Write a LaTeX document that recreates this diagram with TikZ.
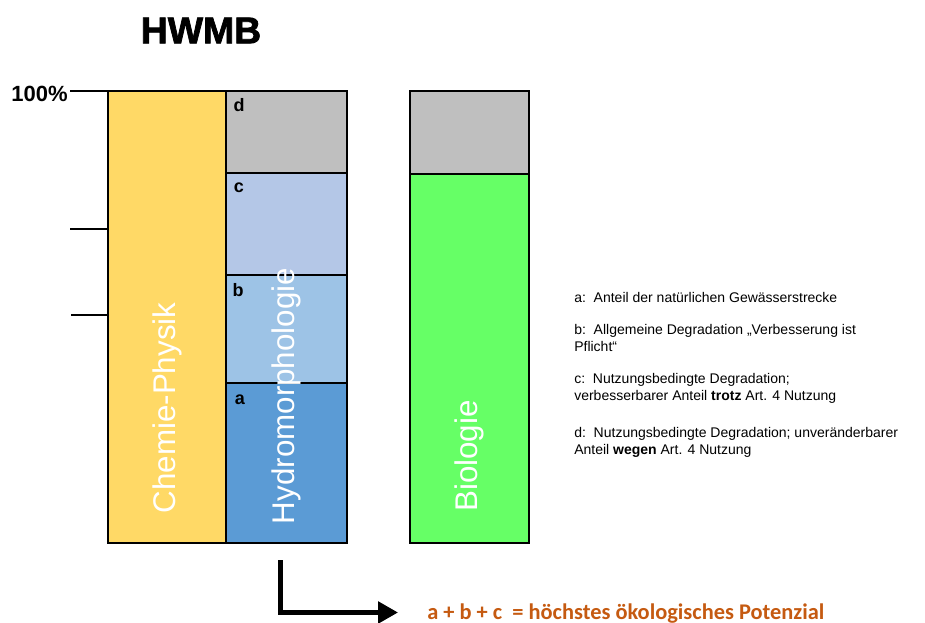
\documentclass[tikz,border=0pt]{standalone}
\usepackage{fontspec}
\setmainfont{Liberation Sans}
\newfontfamily\carl{Carlito}
\newfontfamily\heavy[BoldFeatures={FakeBold=2}]{Liberation Sans}
\usetikzlibrary{arrows.meta}
\definecolor{cgold}{HTML}{FFD966}
\definecolor{cgray}{HTML}{BFBFBF}
\definecolor{cc}{HTML}{B4C7E7}
\definecolor{cb}{HTML}{9DC3E6}
\definecolor{ca}{HTML}{5B9BD5}
\definecolor{cgreen}{HTML}{66FF66}
\definecolor{corange}{HTML}{C55A11}
\tikzset{
  seg/.style={draw=black, line width=1.1pt, inner sep=0pt, outer sep=0pt, anchor=north west},
  vtext/.style={rotate=90, text=white, font=\fontsize{23.5}{28}\selectfont, inner sep=0pt},
  seglabel/.style={font=\bfseries\fontsize{13.5}{15}\selectfont, inner sep=0pt},
  legend/.style={anchor=west, align=left, inner sep=0pt, font=\fontsize{10.5}{12.75}\selectfont},
  tick/.style={line width=0.9pt, black}
}
\begin{document}
\begin{tikzpicture}[x=0.75pt, y=-0.75pt]
\useasboundingbox (0,0) rectangle (925,623);
% title
\node[font=\heavy\bfseries\fontsize{28}{30}\selectfont, inner sep=0pt] (title) at (201,30.5) {HWMB};
\node[font=\bfseries\fontsize{16.5}{18}\selectfont, inner sep=0pt, anchor=east] (pct) at (68,94) {100\%};
% bars
\node[seg, fill=cgold, minimum width=88.5pt, minimum height=339pt] (chem) at (108,91) {};
\node[seg, fill=cgray, minimum width=90.75pt, minimum height=61.5pt] (hd) at (226,91) {};
\node[seg, fill=cc, minimum width=90.75pt, minimum height=76.5pt] (hc) at (226,173) {};
\node[seg, fill=cb, minimum width=90.75pt, minimum height=81pt] (hb) at (226,275) {};
\node[seg, fill=ca, minimum width=90.75pt, minimum height=120pt] (ha) at (226,383) {};
\node[seg, fill=cgray, minimum width=89.25pt, minimum height=62.25pt] (bg) at (410,91) {};
\node[seg, fill=cgreen, minimum width=89.25pt, minimum height=276.75pt] (bio) at (410,174) {};
% ticks
\coordinate (t0) at (70,91);
\coordinate (t1) at (70,229);
\coordinate (t2) at (71,315);
\draw[tick] (t0) -- (t0 -| chem.west);
\draw[tick] (t1) -- (t1 -| chem.west);
\draw[tick] (t2) -- (t2 -| chem.west);
% vertical texts
\node[vtext] (tchem) at (167,408) {Chemie-Physik};
\node[vtext] (thydro) at (286,396) {Hydromorphologie};
\node[vtext] (tbio) at (469.5,456) {Biologie};
% segment labels
\node[seglabel] (ld) at (239,105.5) {d};
\node[seglabel] (lc) at (239,188) {c};
\node[seglabel] (lb) at (238,290) {b};
\node[seglabel] (la) at (240,400) {a};
% legend
\node[legend] (lega) at (574,297) {a:\ \ Anteil der natürlichen Gewässerstrecke};
\node[legend] (legb) at (574,337.5) {b:\ \ Allgemeine Degradation „Verbesserung ist\\Pflicht“};
\node[legend] (legc) at (574,388.5) {c:\ \ Nutzungsbedingte Degradation;\\verbesserbarer Anteil \textbf{trotz} Art. 4 Nutzung};
\node[legend] (legd) at (574,442.5) {d:\ \ Nutzungsbedingte Degradation; unveränderbarer\\Anteil \textbf{wegen} Art. 4 Nutzung};
% arrow
\coordinate (arrS) at (280.5,560);
\coordinate (arrE) at (398,612.5);
\draw[line width=3.4pt, -{Triangle[length=15pt, width=16pt]}] (arrS) |- (arrE);
\node[anchor=base west, inner sep=0pt, text=corange, font=\carl\bfseries\fontsize{16.8}{19}\selectfont] (res) at (427,619) {a + b + c\ \ = höchstes ökologisches Potenzial};
\end{tikzpicture}
\end{document}
